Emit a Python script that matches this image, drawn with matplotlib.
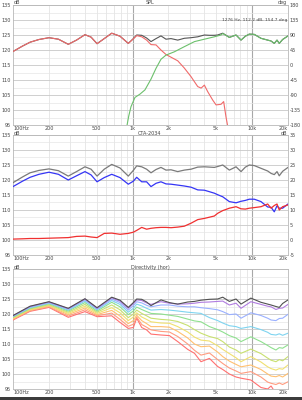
import matplotlib
matplotlib.use("Agg")
import matplotlib.pyplot as plt
from matplotlib.ticker import FixedLocator, NullFormatter
from matplotlib.patches import Rectangle

plt.rcParams["axes.unicode_minus"] = False

# ---------------- data ----------------
freq = [100, 120, 139, 165, 200, 240, 290, 340, 400, 450, 505, 580, 670, 786, 922,
        1016, 1084, 1194, 1312, 1428, 1573, 1730, 1906, 2100, 2390, 2711, 3090, 3515,
        3993, 4400, 4840, 5160, 5690, 6460, 7350, 8090, 8800, 9490, 10450, 11880,
        13520, 14430, 15360, 16180, 16900, 18030, 20000]

spl_sum = [119.5, 121.3, 122.6, 123.5, 124.1, 123.6, 121.9, 123.3, 125.1, 124.3, 122.1,
           123.8, 125.6, 124.6, 122.2, 123.8, 125.0, 124.9, 124.0, 122.8, 123.8, 124.7,
           123.6, 123.8, 123.3, 123.9, 124.1, 124.4, 125.0, 124.9, 124.9, 125.0, 125.6,
           124.2, 125.0, 123.3, 124.6, 125.3, 125.2, 123.9, 123.3, 123.0, 122.2, 123.3,
           122.2, 123.5, 124.7]

woofer_freq = [100, 120, 139, 165, 200, 240, 290, 340, 400, 450, 505, 580, 670, 786, 922,
               1016, 1084, 1194, 1312, 1428, 1573, 1730, 1906, 2100, 2390, 2711, 3090,
               3300, 3515, 3750, 3993, 4260, 4690, 5000, 5500, 5790, 6050, 6300]
woofer_spl = [119.5, 121.3, 122.6, 123.5, 124.1, 123.6, 121.9, 123.3, 125.1, 124.3, 122.1,
              123.8, 125.6, 124.6, 122.2, 123.7, 124.8, 124.4, 123.3, 121.8, 121.7, 120.0,
              118.5, 117.6, 116.4, 114.0, 111.1, 109.4, 107.8, 107.3, 108.3, 106.1, 103.3,
              101.7, 101.9, 102.8, 97.8, 94.0]

tweeter_freq = [896, 930, 971, 1049, 1155, 1271, 1428, 1573, 1730, 1906, 2240, 2711, 3300,
                3993, 4840, 5500, 5690, 6460, 7350, 8090, 8800, 9490, 10450, 11880, 13520,
                14430, 15360, 16180, 16900, 18030, 20000]
tweeter_spl = [94.5, 98.0, 101.1, 104.2, 105.3, 106.7, 110.3, 113.9, 116.9, 118.3, 119.4,
               121.1, 122.8, 123.6, 124.4, 125.0, 125.5, 124.2, 125.0, 123.3, 124.6, 125.3,
               125.2, 123.9, 123.3, 123.0, 122.2, 123.3, 122.2, 123.5, 124.7]

listening_window = [119.1, 121.0, 122.4, 123.2, 123.7, 123.1, 121.3, 122.8, 124.4, 123.6,
                    121.3, 123.6, 125.2, 124.0, 121.3, 123.2, 124.7, 124.4, 123.6, 122.4,
                    123.5, 124.2, 123.3, 123.4, 122.8, 123.3, 123.6, 124.3, 124.4, 124.3,
                    124.2, 124.5, 125.0, 123.3, 124.4, 122.8, 124.3, 125.0, 124.8, 123.9,
                    123.0, 122.2, 121.8, 122.8, 121.4, 122.9, 124.2]
sound_power = [117.8, 119.6, 120.9, 121.9, 122.6, 121.9, 120.0, 121.4, 122.8, 121.7, 119.4,
               120.8, 121.9, 120.8, 118.6, 119.6, 120.9, 119.4, 119.4, 117.8, 118.9, 119.4,
               118.7, 118.6, 118.3, 118.0, 117.6, 116.7, 116.6, 116.1, 115.6, 115.1, 114.4,
               112.8, 112.4, 112.9, 113.2, 113.6, 113.6, 112.8, 111.0, 110.9, 109.4, 111.4,
               110.6, 110.6, 112.0]
di = [0.3, 0.4, 0.5, 0.5, 0.6, 0.7, 0.8, 1.2, 1.3, 1.0, 0.8, 2.2, 2.3, 1.9, 2.2, 2.6, 3.2,
      4.2, 3.6, 3.9, 4.1, 4.2, 4.2, 4.1, 4.3, 4.6, 5.6, 6.8, 7.2, 7.6, 8.0, 8.9, 9.8, 10.6,
      11.1, 10.4, 10.3, 10.6, 10.8, 11.1, 12.0, 10.6, 11.5, 12.0, 10.0, 11.1, 11.7]

dir_freq = [100, 139, 200, 290, 400, 505, 670, 786, 922, 1016, 1084, 1194, 1312, 1428,
            1730, 2036, 2390, 2897, 3300, 3740, 4400, 5160, 5690, 6460, 7350, 8090, 9780,
            11880, 13520, 14430, 15850, 16900, 18030, 20000]
dir_0 = [119.5, 122.6, 124.1, 121.9, 125.1, 122.1, 125.6, 124.6, 122.2, 123.8, 125.0, 124.9,
         124.0, 122.8, 124.7, 123.8, 123.3, 124.0, 124.2, 124.6, 124.9, 125.0, 125.6, 124.2,
         125.0, 123.3, 125.3, 123.9, 123.3, 123.0, 122.5, 122.2, 123.5, 124.7]
dir_10 = [119.4, 122.5, 124.0, 121.8, 125.0, 121.9, 125.4, 124.3, 121.9, 123.5, 124.7, 124.5,
          123.7, 123.2, 124.1, 123.6, 123.3, 123.4, 123.6, 123.9, 124.0, 124.2, 124.3, 123.0,
          123.6, 121.9, 124.1, 123.2, 122.6, 122.4, 121.5, 121.9, 122.0, 123.2]
dir_20 = [119.3, 122.3, 123.8, 121.6, 124.7, 121.7, 125.0, 123.8, 121.3, 122.8, 124.1, 123.7,
          122.9, 122.4, 123.0, 123.0, 122.6, 122.4, 122.4, 122.1, 121.8, 121.4, 120.8, 119.8,
          120.0, 118.6, 120.4, 119.5, 118.6, 118.0, 117.8, 118.5, 118.6, 119.9]
dir_30 = [119.2, 122.1, 123.6, 121.3, 124.3, 121.4, 124.5, 123.2, 120.6, 121.9, 123.3, 122.7,
          121.9, 121.3, 121.5, 121.3, 121.0, 120.6, 120.4, 120.2, 118.8, 117.8, 117.0, 116.1,
          115.8, 115.2, 115.8, 114.8, 113.9, 113.2, 113.0, 113.4, 112.9, 113.6]
dir_40 = [119.0, 121.9, 123.4, 121.0, 123.8, 121.0, 123.9, 122.4, 119.8, 121.0, 122.3, 121.5,
          120.8, 120.2, 120.0, 119.6, 119.2, 118.3, 117.7, 117.4, 115.8, 114.8, 114.0, 112.8,
          112.0, 110.8, 112.4, 110.8, 109.5, 108.8, 108.0, 108.8, 108.6, 109.7]
dir_50 = [118.8, 121.7, 123.1, 120.6, 123.2, 120.6, 123.0, 121.4, 118.8, 120.0, 121.3, 120.2,
          119.4, 118.6, 118.2, 118.0, 117.5, 116.2, 114.8, 113.6, 112.5, 111.8, 110.8, 109.0,
          108.0, 106.9, 108.3, 106.8, 105.3, 104.6, 104.1, 104.8, 104.4, 105.8]
dir_60 = [118.6, 121.5, 122.9, 120.2, 122.6, 120.2, 122.1, 120.4, 117.8, 119.0, 120.4, 119.0,
          118.2, 117.4, 117.0, 116.9, 115.8, 114.0, 112.3, 111.3, 111.0, 109.4, 108.2, 106.8,
          105.4, 104.1, 105.8, 104.0, 102.4, 101.8, 101.3, 101.8, 101.6, 103.0]
dir_70 = [118.4, 121.3, 122.7, 119.8, 122.0, 119.8, 121.2, 119.3, 116.8, 117.8, 119.6, 117.8,
          116.8, 115.8, 115.8, 115.6, 114.2, 112.0, 110.0, 109.1, 109.3, 107.3, 105.8, 104.3,
          103.2, 102.4, 103.0, 101.5, 100.0, 99.3, 99.1, 99.5, 99.0, 100.2]
dir_80 = [118.2, 121.1, 122.4, 119.3, 121.4, 119.4, 120.3, 118.2, 115.9, 116.6, 119.0, 116.5,
          115.6, 114.7, 114.2, 114.0, 112.5, 110.0, 107.9, 106.3, 107.0, 104.8, 103.5, 102.0,
          101.0, 100.2, 100.8, 99.0, 97.3, 96.9, 96.5, 97.0, 96.5, 97.4]
dir_90 = [118.0, 120.9, 122.2, 118.9, 120.8, 119.1, 119.4, 117.2, 115.2, 115.5, 118.6, 115.5,
          114.7, 113.3, 113.0, 112.8, 110.8, 108.2, 106.9, 104.1, 105.2, 102.5, 101.5, 100.0,
          99.0, 98.6, 98.0, 95.5, 95.0, 96.0, 93.5, 93.0, 92.0, 92.0]
dir_curves = [dir_0, dir_10, dir_20, dir_30, dir_40, dir_50, dir_60, dir_70, dir_80, dir_90]
dir_colors = ["#505050", "#b07ce0", "#9ab0ff", "#7fd4f0", "#8fe08f", "#c8e070",
              "#f0e070", "#ffc070", "#ff9c80", "#ff7070"]

xticks = [100, 200, 500, 1000, 2000, 5000, 10000, 20000]
xtick_labels = ["100Hz", "200", "500", "1k", "2k", "5k", "10k", "20k"]
db_ticks = [95, 100, 105, 110, 115, 120, 125, 130, 135]
deg_ticks = [-180, -135, -90, -45, 0, 45, 90, 135, 180]
di_ticks = [-5, 0, 5, 10, 15, 20, 25, 30, 35]

# ---------------- figure ----------------
W, H = 302, 400
fig = plt.figure(figsize=(W / 100, H / 100), dpi=100)
fig.patch.set_facecolor("white")

FS = 3.5
TXT = "#444444"


def ax_rect(x0, y0, x1, y1):
    return [x0 / W, 1 - y1 / H, (x1 - x0) / W, (y1 - y0) / H]


def style_axis(ax):
    ax.set_xscale("log")
    ax.set_xlim(100, 20000)
    ax.set_ylim(95, 135)
    minor_x = [f * m for f in (100, 1000, 10000) for m in range(2, 10) if f * m < 20000]
    for f in minor_x:
        ax.axvline(f, color="#dedede", lw=0.5, zorder=0)
    for f in (1000, 10000):
        ax.axvline(f, color="#a8a8a8", lw=0.8, zorder=0)
    for v in [97.5 + 5 * i for i in range(8)]:
        ax.axhline(v, color="#e6e6e6", lw=0.5, zorder=0)
    for v in db_ticks:
        ax.axhline(v, color="#c8c8c8", lw=0.6, zorder=0)
    ax.xaxis.set_major_locator(FixedLocator(xticks))
    ax.xaxis.set_minor_locator(FixedLocator([]))
    ax.xaxis.set_minor_formatter(NullFormatter())
    ax.set_xticklabels(xtick_labels)
    ax.set_yticks(db_ticks)
    ax.tick_params(axis="y", which="both", length=0, labelsize=FS, colors=TXT, pad=1.2)
    ax.tick_params(axis="x", which="both", length=0, labelsize=FS, colors=TXT, pad=0.4)
    labels = ax.get_xticklabels()
    labels[0].set_horizontalalignment("left")
    labels[-1].set_horizontalalignment("right")
    for s in ax.spines.values():
        s.set_color("#b8b8b8")
        s.set_linewidth(0.6)


def right_axis(ax, lo, hi, ticks):
    ax2 = ax.twinx()
    ax2.set_ylim(lo, hi)
    ax2.set_yticks(ticks)
    ax2.tick_params(axis="y", length=0, labelsize=FS, colors=TXT, pad=1.2)
    for s in ax2.spines.values():
        s.set_visible(False)
    return ax2


# Panel 1: SPL
ax1 = fig.add_axes(ax_rect(13, 5, 288, 125))
style_axis(ax1)
ax1.plot(freq, spl_sum, color="#555555", lw=0.8, zorder=3)
ax1.plot(woofer_freq, woofer_spl, color="#f06a6a", lw=0.8, zorder=4)
ax1.plot(tweeter_freq, tweeter_spl, color="#6cc06c", lw=0.8, zorder=5)
right_axis(ax1, -180, 180, deg_ticks)
fig.text(14 / W, 1 - 2.5 / H, "dB", fontsize=FS, color=TXT, va="center", ha="left")
fig.text(150 / W, 1 - 2.5 / H, "SPL", fontsize=FS, color=TXT, va="center", ha="center")
fig.text(287 / W, 1 - 2.5 / H, "deg", fontsize=FS, color=TXT, va="center", ha="right")
fig.text(287 / W, 1 - 19.5 / H, "1276 Hz, 112.2 dB, 154.7 deg", fontsize=3.2,
         color=TXT, va="center", ha="right")

# Panel 2: CTA-2034
ax2 = fig.add_axes(ax_rect(13, 135, 288, 255))
style_axis(ax2)
ax2.plot(freq, listening_window, color="#7a7a7a", lw=0.9, zorder=3)
ax2.plot(freq, sound_power, color="#3535f5", lw=0.9, zorder=4)
ax2r = right_axis(ax2, -5, 35, di_ticks)
ax2r.plot(freq, di, color="#f03030", lw=0.9, zorder=5)
fig.text(14 / W, 1 - 133.3 / H, "dB", fontsize=FS, color=TXT, va="center", ha="left")
fig.text(150 / W, 1 - 133.3 / H, "CTA-2034", fontsize=FS, color=TXT, va="center", ha="center")
fig.text(287 / W, 1 - 133.3 / H, "dB", fontsize=FS, color=TXT, va="center", ha="right")

# Panel 3: Directivity
ax3 = fig.add_axes(ax_rect(13, 269, 288, 389))
style_axis(ax3)
for i in range(len(dir_curves) - 1, -1, -1):
    ax3.plot(dir_freq, dir_curves[i], color=dir_colors[i], lw=0.8, zorder=3 + (10 - i))
fig.text(14 / W, 1 - 267.3 / H, "dB", fontsize=FS, color=TXT, va="center", ha="left")
fig.text(150 / W, 1 - 267.3 / H, "Directivity (hor)", fontsize=FS, color=TXT,
         va="center", ha="center")

# bottom dark strip
fig.patches.append(Rectangle((0, 0), 1, 3.5 / H, transform=fig.transFigure,
                             facecolor="#3c3c3c", edgecolor="none"))

fig.savefig("out.png", dpi=100, facecolor="white")
